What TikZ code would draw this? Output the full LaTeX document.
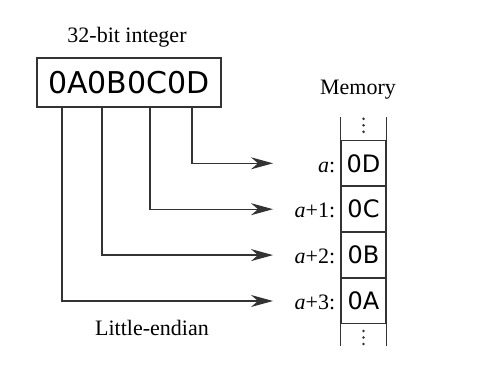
\documentclass[tikz,border=0pt]{standalone}
\usepackage{fontspec}
\setmainfont{Liberation Serif}
\newfontfamily\hexfont{DejaVu Sans}
\usetikzlibrary{arrows.meta,positioning}

\tikzset{
  hexbox/.style={draw=black!80, line width=1.2pt, minimum width=184pt, minimum height=49pt,
    inner sep=0pt, font=\hexfont\fontsize{30}{30}\selectfont},
  cell/.style={draw=black!80, line width=1.1pt, minimum width=45pt, minimum height=44.8pt,
    inner sep=0pt, font=\hexfont\fontsize{24}{24}\selectfont},
  addr/.style={inner sep=0pt, font=\fontsize{22}{22}\selectfont},
  caption/.style={inner sep=0pt, font=\fontsize{22}{22}\selectfont},
  wire/.style={draw=black!80, line width=1.2pt, -{Stealth[length=22pt,width=12pt,inset=7pt]}}
}

\begin{document}
\begin{tikzpicture}[x=1pt,y=-1pt]
    \useasboundingbox (0,0) rectangle (498,387);

    % --- INTEGER (LEFT) ---
    \node[hexbox] (int) at (129,82.5) {0A0B0C0D};
    \node[caption] (inttitle) at (127,37) {32-bit integer};
    \node[caption] (order) at (152,328) {Little-endian};

    % --- MEMORY (RIGHT) ---
    \node[caption] (memtitle) at (358,90) {Memory};
    \node[cell] (c0) at (363.5,163.3) {0D};
    \node[cell, below=0pt of c0] (c1) {0C};
    \node[cell, below=0pt of c1] (c2) {0B};
    \node[cell, below=0pt of c2] (c3) {0A};
    \draw[draw=black!80, line width=1.1pt] (c0.north west) -- ++(0,-23) (c0.north east) -- ++(0,-23);
    \draw[draw=black!80, line width=1.1pt] (c3.south west) -- ++(0,22) (c3.south east) -- ++(0,22);
    \foreach \y in {21.5,15,8.5}
        \fill[black!80] ([yshift=\y pt]c0.north) circle (1.4pt);
    \foreach \y in {-7,-13.5,-20}
        \fill[black!80] ([yshift=\y pt]c3.south) circle (1.4pt);

    \node[addr, anchor=base east] (l0) at ([xshift=-5pt]c0.base west) {\textit{a}:};
    \node[addr, anchor=base east] (l1) at ([xshift=-5pt]c1.base west) {\textit{a}+1:};
    \node[addr, anchor=base east] (l2) at ([xshift=-5pt]c2.base west) {\textit{a}+2:};
    \node[addr, anchor=base east] (l3) at ([xshift=-5pt]c3.base west) {\textit{a}+3:};

    % --- BYTE WIRES ---
    \coordinate (tip) at (273,0);
    \foreach \dx [count=\i from 0] in {63,21,-27,-67}
        \draw[wire] ([xshift=\dx pt]int.south) |- (c\i.west -| tip);
\end{tikzpicture}
\end{document}
